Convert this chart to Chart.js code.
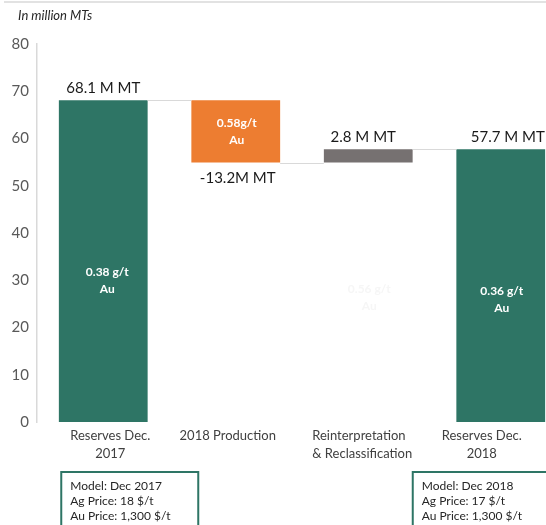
<!DOCTYPE html>
<html>
<head>
<meta charset="utf-8">
<script src="https://cdn.jsdelivr.net/npm/chart.js@4/dist/chart.umd.min.js"></script>
<style>
  html, body { margin: 0; padding: 0; overflow: hidden; background: #fff; }
  #wrap { width: 546px; height: 525px; overflow: hidden; position: relative; }
</style>
</head>
<body>
<div id="wrap"><canvas id="chart" width="567" height="525"></canvas></div>
<script>
const categories = [['Reserves Dec.', '2017'], ['2018 Production'], ['Reinterpretation', '& Reclassification'], ['Reserves Dec.', '2018']];
const barStart = [0, 54.9, 54.9, 0];
const barEnd = [68.1, 68.1, 57.7, 57.7];
const valueLabels = ['68.1 M MT', '-13.2M MT', '2.8 M MT', '57.7 M MT'];
const gradeLabels = [['0.38 g/t', 'Au'], ['0.58g/t', 'Au'], ['0.56 g/t', 'Au'], ['0.36 g/t', 'Au']];
const yTicks = [0, 10, 20, 30, 40, 50, 60, 70, 80];
const modelNotes = [
  ['Model: Dec 2017', 'Ag Price: 18 $/t', 'Au Price: 1,300 $/t'],
  ['Model: Dec 2018', 'Ag Price: 17 $/t', 'Au Price: 1,300 $/t']
];

const barColors = ['#2e7565', '#ed7d31', '#767171', '#2e7565'];
const FONT = 'Lato, "Open Sans", sans-serif';

// texts, connector lines and note boxes
const extras = {
  id: 'extras',
  afterDatasetsDraw(chart) {
    const ctx = chart.ctx;
    const y = chart.scales.y;
    const bars = chart.getDatasetMeta(0).data;
    ctx.save();

    // thin line on top
    ctx.strokeStyle = '#d9d9d9';
    ctx.lineWidth = 1.5;
    ctx.beginPath();
    ctx.moveTo(4, 2);
    ctx.lineTo(546, 2);
    ctx.stroke();

    ctx.fillStyle = '#262626';
    ctx.font = 'italic 13px ' + FONT;
    ctx.textAlign = 'left';
    ctx.textBaseline = 'middle';
    ctx.fillText('In million MTs', 18, 16);

    // connectors: level where one bar ends and the next one starts
    ctx.strokeStyle = '#d9d9d9';
    ctx.lineWidth = 1;
    const levels = [barEnd[0], barStart[1], barEnd[2]];
    levels.forEach((lv, i) => {
      const py = Math.round(y.getPixelForValue(lv)) + 0.5;
      ctx.beginPath();
      ctx.moveTo(bars[i].x + bars[i].width / 2, py);
      ctx.lineTo(bars[i + 1].x - bars[i + 1].width / 2, py);
      ctx.stroke();
    });

    // value labels
    ctx.font = '15px ' + FONT;
    ctx.fillStyle = '#1a1a1a';
    ctx.textAlign = 'center';
    const valDx = [0, 2, -5, 7];
    valueLabels.forEach((t, i) => {
      const neg = t.startsWith('-');
      const py = neg ? y.getPixelForValue(barStart[i]) + 16 : y.getPixelForValue(barEnd[i]) - 12;
      ctx.fillText(t, bars[i].x + valDx[i], py);
    });

    // grades
    ctx.font = 'bold 12px ' + FONT;
    const gradeAt = [30.1, (barStart[1] + barEnd[1]) / 2, 26.5, 26.1];
    const gradeCol = ['#ffffff', '#ffffff', '#f6f6f6', '#ffffff'];
    gradeLabels.forEach((g, i) => {
      const py = y.getPixelForValue(gradeAt[i]);
      const px = bars[i].x + (i === 0 ? 4 : 1);
      ctx.fillStyle = gradeCol[i];
      ctx.fillText(g[0], px, py - 8);
      ctx.fillText(g[1], px, py + 9);
    });

    // category labels
    ctx.font = '13px ' + FONT;
    ctx.fillStyle = '#404040';
    const catDx = [7, -8, -56, -19];
    const base = y.getPixelForValue(0);
    categories.forEach((lines, i) => {
      ctx.textAlign = i === 2 ? 'left' : 'center';
      lines.forEach((l, k) => {
        ctx.fillText(l, bars[i].x + catDx[i], base + 14 + k * 18);
      });
    });

    // note boxes
    ctx.strokeStyle = '#2e7565';
    ctx.lineWidth = 2;
    ctx.font = '12px ' + FONT;
    ctx.fillStyle = '#262626';
    ctx.textAlign = 'left';
    const boxX = [bars[0].x - 42, bars[3].x - 88];
    modelNotes.forEach((lines, j) => {
      ctx.strokeRect(boxX[j], base + 50, 137, 70);
      lines.forEach((l, k) => ctx.fillText(l, boxX[j] + 9, base + 64 + k * 15));
    });

    ctx.restore();
  }
};

new Chart(document.getElementById('chart'), {
  type: 'bar',
  data: {
    labels: categories,
    datasets: [{
      data: barStart.map((s, i) => [s, barEnd[i]]),
      backgroundColor: barColors,
      borderWidth: 0,
      categoryPercentage: 1,
      barPercentage: 0.67
    }]
  },
  options: {
    responsive: false,
    animation: false,
    layout: { padding: { top: 44, bottom: 103, left: 0, right: 0 } },
    plugins: { legend: { display: false }, tooltip: { enabled: false } },
    scales: {
      x: { display: false },
      y: {
        min: 0,
        max: 80,
        afterFit(s) { s.width = 37; },
        afterBuildTicks(s) { s.ticks = yTicks.map(v => ({ value: v })); },
        grid: { display: false, drawTicks: false },
        border: { display: true, color: '#d9d9d9', width: 1.5 },
        ticks: { padding: 8, color: '#595959', font: { family: FONT, size: 15 } }
      }
    }
  },
  plugins: [extras]
});
</script>
</body>
</html>
